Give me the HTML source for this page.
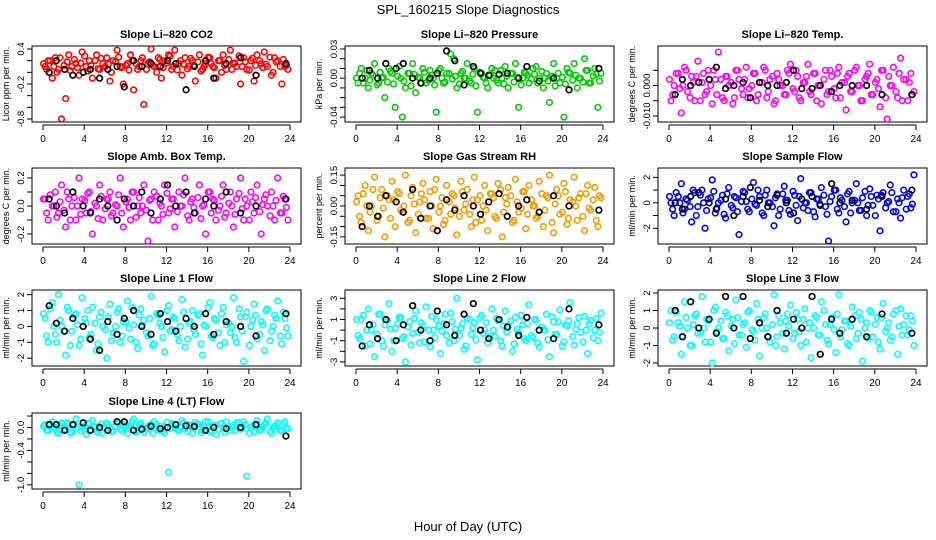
<!DOCTYPE html>
<html><head><meta charset="utf-8"><style>
body{margin:0;background:#fff;}
svg{display:block;font-family:"Liberation Sans",sans-serif;}
</style></head><body>
<svg id="chart" width="936" height="540" viewBox="0 0 936 540">
<text x="468" y="14" text-anchor="middle" font-size="13">SPL_160215  Slope Diagnostics</text>
<text x="468" y="531" text-anchor="middle" font-size="13">Hour of Day (UTC)</text>
</svg>
<script>
const hoursC=[0.2,0.5,0.9,1.2,1.5,1.8,2.2,2.5,2.8,3.2,3.5,3.8,4.2,4.5,4.8,5.2,5.5,5.8,6.2,6.5,6.8,7.2,7.5,7.8,8.2,8.5,8.8,9.2,9.5,9.8,10.2,10.5,10.8,11.2,11.5,11.8,12.2,12.5,12.8,13.2,13.5,13.8,14.2,14.5,14.8,15.2,15.5,15.8,16.2,16.5,16.8,17.2,17.5,17.8,18.2,18.5,18.8,19.2,19.5,19.8,20.2,20.5,20.8,21.2,21.5,21.8,22.2,22.5,22.8,23.2,23.5,23.8];
const hoursD=[0.05,0.35,0.7,1.05,1.35,1.65,2.05,2.35,2.65,3.05,3.35,3.65,4.05,4.35,4.65,5.05,5.35,5.65,6.05,6.35,6.65,7.05,7.35,7.65,8.05,8.35,8.65,9.05,9.35,9.65,10.05,10.35,10.65,11.05,11.35,11.65,12.05,12.35,12.65,13.05,13.35,13.65,14.05,14.35,14.65,15.05,15.35,15.65,16.05,16.35,16.65,17.05,17.35,17.65,18.05,18.35,18.65,19.05,19.35,19.65,20.05,20.35,20.65,21.05,21.35,21.65,22.05,22.35,22.65,23.05,23.35,23.65];
const hoursK=[0.6,1.3,2.1,2.9,3.9,4.6,5.5,6.3,7.2,7.9,8.8,9.6,10.5,11.4,12.1,12.9,13.9,14.7,15.8,16.6,17.8,19.2,20.7,23.6];
const xTicks=[0,4,8,12,16,20,24];
const titles=["Slope Li\u2013820 CO2","Slope Li\u2013820 Pressure","Slope Li\u2013820 Temp.","Slope Amb. Box Temp.","Slope Gas Stream RH","Slope Sample Flow","Slope Line 1 Flow","Slope Line 2 Flow","Slope Line 3 Flow","Slope Line 4 (LT) Flow"];
const yLabels=["Licor ppm per min.","kPa per min.","degrees C per min.","degrees C per min.","percent per min.","ml/min per min.","ml/min per min.","ml/min per min.","ml/min per min.","ml/min per min."];
const colors=["#ff0000","#00cd00","#ff00ff","#ff00ff","#f59a00","#0000ff","#00ffff","#00ffff","#00ffff","#00ffff"];
const domains=[[-0.8,0.4],[-0.042,0.03],[-0.011,0.012],[-0.25,0.25],[-0.17,0.17],[-3,2.5],[-2.3,2.1],[-3.1,3.5],[-2,2],[-1.02,0.2]];
const yTicks=[[0.4,0.2,0,-0.2,-0.4,-0.6,-0.8],[0.03,0.02,0.01,0,-0.01,-0.02,-0.03,-0.04],[0.005,0,-0.005,-0.01],[0.2,0.1,0,-0.1,-0.2],[0.15,0.1,0.05,0,-0.05,-0.1,-0.15],[2,1,0,-1,-2],[2,1,0,-1,-2],[3,2,1,0,-1,-2,-3],[2,1,0,-1,-2],[0.2,0,-0.2,-0.4,-0.6,-0.8,-1.0]];
const yTickLabels=[["0.4","","","-0.2","","","-0.8"],["0.03","","","0.00","","","","-0.04"],["","0.000","","-0.010"],["0.2","","0.0","","-0.2"],["0.15","","","0.00","","","-0.15"],["2","","0","","-2"],["2","1","0","-1","-2"],["3","","1","","-1","","-3"],["2","1","0","-1","-2"],["","0.0","","-0.4","","","-1.0"]];
const valsC0=[0.1,0.2,-0.1,0.25,0.05,-0.8,-0.45,0.3,0.1,0.15,-0.05,0.35,0.1,0.2,-0.1,0.3,0.05,0.15,0.25,-0.15,0.2,0.38,0.1,-0.2,0.15,0.3,-0.3,0.05,0.2,-0.55,0.15,0.4,0.1,0.25,-0.1,0.2,0.3,0.05,0.38,0.15,-0.05,0.25,0.1,0.2,-0.15,0.3,0.05,0.15,0.25,0.1,-0.1,0.2,0.3,0.05,0.38,0.15,0.1,-0.2,0.25,0.05,0.2,-0.15,0.3,0.15,0.35,0.1,-0.05,0.25,0.2,-0.2,0.1,0.05];
const valsD0=[0.15,0.05,0.2,0.1,0.0,0.25,0.12,0.18,0.03,0.22,0.08,0.16,0.28,0.02,0.12,0.2,0.06,0.24,0.1,0.14,0.0,0.18,0.26,0.08,0.12,0.04,0.2,0.15,0.1,0.25,0.05,0.18,0.12,0.0,0.22,0.08,0.16,0.28,0.1,0.04,0.2,0.14,0.06,0.24,0.12,0.18,0.02,0.1,0.26,0.15,0.08,0.2,0.0,0.12,0.22,0.05,0.16,0.28,0.1,0.18,0.04,0.24,0.12,0.2,0.08,0.14,0.26,0.0,0.18,0.1,0.22,0.12];
const valsK0=[0.0,0.2,0.05,-0.05,0.0,0.05,-0.1,0.05,0.1,-0.25,0.2,0.1,0.15,0.1,0.2,0.15,-0.3,0.1,0.2,-0.1,0.15,0.25,-0.05,0.15];
const valsC1=[-0.005,0.01,0.0,-0.01,0.005,0.015,-0.005,0.0,-0.02,0.01,0.005,-0.03,0.012,-0.04,-0.01,0.005,0.015,-0.015,0.0,0.01,-0.005,0.008,0.0,-0.035,0.01,-0.005,0.005,0.025,0.02,-0.01,0.005,0.0,0.015,-0.005,0.01,-0.035,0.005,0.0,-0.01,0.01,0.008,-0.005,0.0,0.012,-0.01,0.005,0.015,-0.03,0.0,0.005,-0.005,0.01,0.012,0.0,-0.01,0.005,-0.025,0.015,0.0,-0.005,-0.04,0.01,0.005,0.015,-0.01,0.0,0.02,0.008,-0.005,0.01,-0.03,0.005];
const valsD1=[0.0,0.005,-0.005,0.008,-0.002,0.003,-0.007,0.006,0.001,-0.004,0.007,-0.006,0.002,0.0,-0.003,0.005,-0.008,0.004,0.001,-0.005,0.006,-0.002,0.003,-0.007,0.008,0.0,-0.004,0.005,-0.001,0.002,-0.006,0.007,0.0,-0.003,0.004,-0.008,0.006,0.001,-0.005,0.003,0.0,-0.002,0.008,-0.006,0.002,0.005,-0.004,0.001,-0.007,0.006,0.003,-0.001,0.004,-0.005,0.007,0.0,-0.003,0.002,-0.008,0.005,0.001,-0.006,0.006,-0.002,0.003,0.0,-0.004,0.008,-0.005,0.002,0.004,-0.003];
const valsK1=[0.0,0.008,0.0,0.015,0.01,0.015,0.0,-0.005,0.0,0.005,0.028,0.018,-0.007,0.012,0.005,0.003,0.004,0.005,0.0,0.012,-0.003,0.0,-0.012,0.01];
const valsC2=[-0.005,0.0,0.004,-0.009,0.006,-0.002,0.003,-0.005,0.008,0.001,-0.003,0.005,-0.006,0.002,0.011,-0.004,0.003,0.0,-0.006,0.005,0.002,-0.003,0.006,-0.001,0.004,-0.005,0.001,0.006,-0.004,0.002,-0.006,0.004,0.0,-0.003,0.005,0.007,-0.002,0.003,-0.005,0.001,0.007,-0.003,0.004,0.0,-0.006,0.005,-0.002,0.003,-0.004,0.006,0.001,-0.008,0.004,-0.002,0.006,0.0,-0.005,0.003,0.007,-0.003,0.002,-0.007,0.005,-0.011,0.0,0.006,-0.004,0.009,0.002,-0.005,0.004,-0.002];
const valsD2=[0.002,-0.003,0.004,-0.001,0.0,0.005,-0.004,0.001,0.003,-0.005,0.004,-0.002,0.0,0.005,-0.003,0.002,-0.005,0.003,0.001,-0.004,0.005,-0.001,0.002,-0.004,0.0,0.004,-0.003,0.001,0.005,-0.002,0.003,-0.005,0.002,0.0,-0.003,0.004,-0.001,0.005,-0.004,0.001,0.003,-0.002,0.004,-0.005,0.0,0.002,-0.003,0.005,-0.001,0.004,-0.004,0.001,0.003,-0.002,0.005,0.0,-0.005,0.002,0.004,-0.003,0.001,-0.001,0.005,-0.004,0.003,0.0,-0.002,0.004,-0.005,0.002,0.001,-0.003];
const valsK2=[-0.003,0.002,0.0,0.001,0.002,0.006,-0.001,0.0,0.001,-0.004,0.001,0.0,0.0,0.001,0.005,-0.001,-0.001,0.0,-0.002,0.0,0.0,0.0,-0.003,-0.003];
const valsC3=[0.05,-0.1,0.0,0.1,-0.05,0.15,-0.15,0.05,0.0,-0.1,0.2,0.05,-0.05,0.1,-0.2,0.0,0.15,-0.1,0.05,0.1,-0.05,0.0,0.2,-0.15,0.05,-0.1,0.1,0.0,-0.05,0.15,-0.25,0.05,0.1,-0.1,0.0,0.15,-0.05,0.05,-0.15,0.1,0.0,0.2,-0.1,0.05,-0.05,0.15,0.0,-0.2,0.1,0.05,-0.1,0.0,0.15,-0.05,0.1,-0.15,0.05,0.2,-0.1,0.0,0.1,-0.05,0.15,-0.2,0.05,0.0,0.1,-0.1,0.2,-0.05,0.05,-0.1];
const valsD3=[0.05,-0.05,0.08,0.0,-0.08,0.03,-0.03,0.1,-0.1,0.06,0.0,-0.06,0.04,0.09,-0.04,0.02,-0.09,0.07,-0.02,0.05,-0.07,0.01,0.08,-0.05,0.03,-0.01,0.1,-0.08,0.06,0.0,-0.03,0.04,-0.1,0.07,0.02,-0.06,0.09,-0.02,0.05,-0.04,0.0,0.08,-0.07,0.03,-0.01,0.06,-0.09,0.01,0.1,-0.05,0.04,-0.03,0.07,-0.08,0.02,0.0,-0.06,0.09,-0.02,0.05,-0.1,0.03,0.06,-0.04,0.01,0.08,-0.07,0.0,0.04,-0.05,0.07,-0.01];
const valsK3=[0.05,0.0,-0.05,0.1,0.0,-0.05,0.05,0.0,-0.1,0.05,0.0,0.1,-0.05,0.05,0.15,0.0,0.1,-0.05,0.05,0.0,0.1,-0.05,0.0,0.05];
const valsC4=[0.05,-0.08,0.1,-0.12,0.0,0.14,-0.05,0.08,-0.15,0.03,0.12,-0.1,0.06,-0.03,0.15,-0.07,0.09,-0.13,0.02,0.11,-0.06,0.07,-0.11,0.13,0.0,-0.09,0.1,-0.04,0.05,-0.14,0.12,-0.02,0.08,-0.1,0.14,0.03,-0.07,0.1,-0.12,0.06,-0.05,0.11,-0.15,0.04,0.09,-0.08,0.13,-0.03,0.07,-0.11,0.1,0.0,-0.06,0.12,-0.1,0.05,0.15,-0.13,0.08,-0.04,0.11,-0.09,0.03,0.14,-0.07,0.06,-0.12,0.1,-0.02,0.09,-0.1,0.04];
const valsD4=[0.02,-0.05,0.06,0.0,-0.03,0.08,-0.07,0.04,-0.01,0.05,-0.06,0.03,0.07,-0.02,0.0,-0.08,0.05,0.01,-0.04,0.06,0.03,-0.06,0.0,0.08,-0.03,0.04,-0.07,0.02,0.06,-0.01,-0.05,0.07,0.01,-0.04,0.03,-0.08,0.05,0.0,-0.02,0.06,0.04,-0.06,0.08,-0.03,0.01,0.05,-0.07,0.02,-0.01,0.07,-0.04,0.03,0.0,-0.05,0.06,-0.02,0.04,-0.08,0.01,0.05,-0.03,0.07,-0.06,0.02,0.0,0.04,-0.05,0.06,-0.01,0.03,-0.07,0.05];
const valsK4=[-0.1,0.0,-0.05,0.05,0.02,-0.03,0.08,-0.06,0.0,-0.12,0.03,-0.02,0.05,0.0,-0.04,0.02,0.06,-0.05,0.0,0.03,-0.03,0.05,0.0,-0.02];
const valsC5=[0.0,-1.0,0.5,1.5,-0.5,0.2,-1.5,0.8,-0.3,1.0,-2.0,0.3,1.8,-0.8,0.0,0.6,-1.2,1.2,-0.4,0.4,-2.5,0.9,0.1,-0.7,1.6,-0.2,0.5,-1.0,1.0,0.0,-1.8,0.7,-0.5,1.3,0.2,-0.9,0.6,-1.4,1.9,0.0,-0.6,0.8,-1.1,0.3,1.2,-0.3,-3.0,0.5,1.0,-0.8,0.2,-1.5,0.9,0.0,1.5,-0.6,0.4,-1.0,1.1,-0.2,0.6,-2.2,0.8,0.0,1.4,-0.7,0.3,-1.2,1.0,0.5,-0.4,2.2];
const valsD5=[0.5,-0.5,0.8,0.0,-0.8,0.3,-0.3,1.0,-1.0,0.6,0.0,-0.6,0.4,0.9,-0.4,0.2,-0.9,0.7,-0.2,0.5,-0.7,0.1,0.8,-0.5,0.3,-0.1,1.0,-0.8,0.6,0.0,-0.3,0.4,-1.0,0.7,0.2,-0.6,0.9,-0.2,0.5,-0.4,0.0,0.8,-0.7,0.3,-0.1,0.6,-0.9,0.1,1.0,-0.5,0.4,-0.3,0.7,-0.8,0.2,0.0,-0.6,0.9,-0.2,0.5,-1.0,0.3,0.6,-0.4,0.1,0.8,-0.7,0.0,0.4,-0.5,0.7,-0.1];
const valsK5=[0.0,-0.5,0.5,0.8,0.0,-0.5,0.3,-1.0,0.5,1.2,0.2,-0.3,0.6,0.0,-0.8,0.3,0.5,-0.2,1.5,0.0,0.2,-0.5,0.5,1.0];
const valsC6=[0.5,-1.0,1.5,-0.5,2.0,0.0,-1.8,1.0,-0.3,0.8,-1.2,1.8,0.2,-0.7,1.2,-1.5,0.6,0.0,-2.0,1.4,-0.4,0.9,-1.0,0.3,1.6,-0.8,0.1,-1.4,1.1,0.4,-0.6,1.9,-1.1,0.7,0.0,-1.6,1.3,-0.2,0.5,-0.9,1.7,-1.3,0.2,1.0,-0.5,0.8,-1.8,0.0,1.5,-0.7,0.4,-1.2,1.2,0.1,-0.4,1.8,-1.0,0.6,-2.2,0.9,0.0,1.4,-0.8,0.3,-1.5,1.1,-0.3,0.7,1.6,-1.1,0.5,-0.6];
const valsD6=[0.8,-0.6,1.1,0.0,-1.0,0.4,-0.3,1.2,-1.2,0.7,0.1,-0.8,0.5,1.0,-0.5,0.2,-1.1,0.9,-0.2,0.6,-0.9,0.0,1.1,-0.6,0.3,-0.1,1.2,-1.0,0.7,0.1,-0.4,0.5,-1.2,0.8,0.2,-0.7,1.0,-0.3,0.6,-0.5,0.0,0.9,-0.8,0.3,-0.2,0.7,-1.1,0.1,1.2,-0.6,0.5,-0.4,0.8,-1.0,0.2,0.0,-0.7,1.1,-0.3,0.6,-1.2,0.4,0.7,-0.5,0.1,1.0,-0.9,0.0,0.5,-0.6,0.9,-0.1];
const valsK6=[1.3,0.2,-0.3,0.5,0.0,-0.8,-1.5,0.3,-0.5,0.5,1.0,0.0,-0.5,0.8,0.3,-0.3,0.5,0.0,0.8,-0.5,0.3,0.0,-0.6,0.8];
const valsC7=[-0.5,1.0,-1.5,2.0,0.0,-2.5,1.5,-1.0,0.5,2.5,-2.0,0.2,1.2,-0.8,-3.0,0.8,-0.3,1.8,-1.2,0.4,2.2,-1.6,0.0,1.0,-2.2,0.6,-0.5,1.6,-1.0,3.0,0.2,-1.8,1.1,-0.4,0.7,-2.8,1.4,0.0,-1.2,2.0,-0.6,0.9,-1.5,1.8,0.3,-2.0,1.2,-0.2,0.5,-1.0,2.4,-0.7,1.0,-1.6,0.0,1.5,-2.5,0.8,-0.4,1.9,-1.1,0.4,2.6,-1.4,0.6,-0.2,1.3,-2.2,0.9,0.0,-1.0,1.6];
const valsD7=[1.0,-0.8,1.4,0.0,-1.3,0.5,-0.4,1.5,-1.5,0.9,0.1,-1.0,0.6,1.2,-0.6,0.3,-1.4,1.1,-0.2,0.7,-1.1,0.0,1.3,-0.7,0.4,-0.1,1.5,-1.2,0.8,0.1,-0.5,0.6,-1.5,1.0,0.2,-0.9,1.2,-0.3,0.7,-0.6,0.0,1.1,-1.0,0.4,-0.2,0.9,-1.3,0.1,1.4,-0.8,0.6,-0.5,1.0,-1.2,0.3,0.0,-0.9,1.3,-0.4,0.8,-1.5,0.5,0.9,-0.6,0.1,1.2,-1.1,0.0,0.6,-0.7,1.1,-0.2];
const valsK7=[-1.5,0.5,-0.8,1.0,-1.0,0.5,2.3,0.0,-1.0,1.8,0.5,-0.5,1.5,2.5,0.0,-0.8,1.0,0.3,-0.5,1.2,0.0,-0.8,2.0,0.5];
const valsC8=[1.0,-0.5,0.3,-1.5,1.5,0.0,-1.0,0.7,-0.3,1.8,-0.8,0.4,-2.0,1.2,0.0,-0.6,0.9,-1.3,0.5,1.6,-0.4,0.2,-1.1,1.0,-0.2,1.4,-1.6,0.6,0.0,-0.8,1.9,-0.5,0.3,-1.2,0.8,1.3,-0.3,0.5,-1.0,1.1,0.0,-1.7,0.7,-0.4,1.5,0.2,-0.9,0.6,-1.4,1.9,-0.1,0.4,-1.0,1.2,-0.6,0.9,-1.9,0.3,1.0,-0.5,0.6,-1.2,1.4,0.0,-0.7,0.8,-1.5,1.1,0.2,-0.4,0.7,-1.0];
const valsD8=[0.3,-0.7,0.9,0.1,-0.5,0.6,-1.0,0.2,0.8,-0.3,0.0,0.5,-0.8,1.0,-0.2,0.4,-0.6,0.7,0.1,-0.9,0.6,-0.4,0.3,0.9,-0.1,-0.7,0.5,0.0,0.8,-0.5,0.2,-1.0,0.7,-0.3,0.4,0.1,-0.6,0.9,-0.2,0.5,-0.8,0.3,0.0,0.6,-0.4,1.0,-0.7,0.2,-0.1,0.8,-0.5,0.4,-0.9,0.1,0.7,-0.3,0.5,0.0,-0.6,0.9,0.2,-0.8,0.6,-0.2,0.3,-0.5,1.0,0.1,-0.4,0.7,-0.1,0.4];
const valsK8=[1.0,-0.5,1.5,0.0,0.5,-0.3,1.8,0.0,1.8,-0.6,0.3,-0.5,1.0,-0.3,0.5,0.0,1.8,-1.5,0.5,-0.3,0.5,-0.5,0.8,-0.3];
const valsC9=[0.05,-0.05,0.1,0.0,-0.1,0.08,-0.03,0.05,-0.08,0.15,-1.0,0.0,-0.12,0.06,0.12,-0.05,0.02,-0.1,0.08,0.0,-0.06,0.1,-0.02,0.05,-0.1,0.03,0.15,-0.05,0.08,-0.08,0.0,0.06,0.1,-0.04,0.02,-0.1,-0.78,0.07,0.0,-0.06,0.12,-0.02,0.05,-0.1,0.09,0.0,-0.05,0.1,-0.08,0.03,-0.12,0.06,0.0,0.1,-0.05,0.04,0.08,-0.03,0.1,-0.85,0.0,-0.08,0.12,-0.04,0.05,0.15,-0.1,0.02,0.08,-0.06,0.1,-0.02];
const valsD9=[0.02,-0.05,0.06,0.0,-0.08,0.04,-0.03,0.08,-0.1,0.05,0.0,-0.06,0.03,0.07,-0.04,0.01,-0.09,0.06,-0.02,0.04,-0.07,0.02,0.08,-0.05,0.03,-0.01,0.1,-0.08,0.05,0.0,-0.03,0.04,-0.1,0.06,0.02,-0.06,0.09,-0.02,0.05,-0.04,0.0,0.08,-0.07,0.03,-0.01,0.06,-0.09,0.01,0.1,-0.05,0.04,-0.03,0.07,-0.08,0.02,0.0,-0.06,0.09,-0.02,0.05,-0.1,0.03,0.06,-0.04,0.01,0.08,-0.07,0.0,0.04,-0.05,0.07,-0.01];
const valsK9=[0.05,0.05,-0.05,0.05,0.08,-0.05,0.0,-0.05,0.1,0.1,-0.05,-0.03,0.02,-0.02,0.0,0.05,0.03,0.02,-0.05,0.0,-0.02,0.0,0.05,-0.15];
const colorVals=[valsC0,valsC1,valsC2,valsC3,valsC4,valsC5,valsC6,valsC7,valsC8,valsC9];
const colorVals2=[valsD0,valsD1,valsD2,valsD3,valsD4,valsD5,valsD6,valsD7,valsD8,valsD9];
const blackVals=[valsK0,valsK1,valsK2,valsK3,valsK4,valsK5,valsK6,valsK7,valsK8,valsK9];

const NS="http://www.w3.org/2000/svg";
const svg=document.getElementById('chart');
function mk(tag,attrs,parent){const e=document.createElementNS(NS,tag);for(const k in attrs)e.setAttribute(k,attrs[k]);parent.appendChild(e);return e;}
const colX0=[43,356,669], rowTop=[46,168,290,413], BOXH=76, XW=247;
for(let p=0;p<10;p++){
  const col=p%3,row=Math.floor(p/3);
  const x0=colX0[col],top=rowTop[row],bot=top+BOXH;
  const left=x0-11,right=x0+258;
  const [lo,hi]=domains[p];
  const xs=h=>x0+h/24*XW;
  const ys=v=>(bot-3)-(v-lo)/(hi-lo)*(BOXH-6);
  const g=mk('g',{},svg);
  
  
  const t=mk('text',{x:(left+right)/2,y:top-8,'text-anchor':'middle','font-size':11,'font-weight':'bold'},g);
  t.textContent=titles[p];
  
  
  const box=mk('rect',{x:left,y:top,width:right-left,height:BOXH,fill:'none',stroke:'#000','stroke-width':1},g);
  
  
  const xa=mk('g',{},g);
  
  
  mk('line',{x1:xs(0),x2:xs(24),y1:bot+3,y2:bot+3,stroke:'#000'},xa);
  xTicks.forEach(v=>{
    mk('line',{x1:xs(v),x2:xs(v),y1:bot+3,y2:bot+8,stroke:'#000'},xa);
    const tl=mk('text',{x:xs(v),y:bot+20,'text-anchor':'middle','font-size':10},xa);
    tl.textContent=v;
    
    
  });
  const ya=mk('g',{},g);
  
  
  const tk=yTicks[p];
  mk('line',{x1:left,x2:left,y1:ys(Math.max(...tk)),y2:ys(Math.min(...tk)),stroke:'#000'},ya);
  tk.forEach((v,i)=>{
    const yy=ys(v);
    mk('line',{x1:left-5,x2:left,y1:yy,y2:yy,stroke:'#000'},ya);
    const s=yTickLabels[p][i];
    if(s){
      const tl=mk('text',{x:left-8,y:yy,'text-anchor':'middle','font-size':9.5,transform:`rotate(-90 ${left-8} ${yy})`},ya);
      tl.textContent=s;
      
      
    }
  });
  const yl=mk('text',{x:left-23,y:top+BOXH/2,'text-anchor':'middle','font-size':9,transform:`rotate(-90 ${left-23} ${top+BOXH/2})`},g);
  yl.textContent=yLabels[p];
  
  
  const cg=mk('g',{fill:'none',stroke:colors[p],'stroke-width':1.6},g);
  
  
  const dv=colorVals2[p];
  for(let i=0;i<Math.min(dv.length,hoursD.length);i++){
    const c=mk('circle',{cx:xs(hoursD[i]),cy:ys(dv[i]),r:2.8},cg);
    
    
  }
  const cv=colorVals[p];
  for(let i=0;i<Math.min(cv.length,hoursC.length);i++){
    const c=mk('circle',{cx:xs(hoursC[i]),cy:ys(cv[i]),r:2.8},cg);
    
    
  }
  const kg=mk('g',{fill:'none',stroke:'#000','stroke-width':1.7},g);
  
  
  const kv=blackVals[p];
  for(let i=0;i<Math.min(kv.length,hoursK.length);i++){
    const c=mk('circle',{cx:xs(hoursK[i]),cy:ys(kv[i]),r:2.8},kg);
    
    
  }
}
</script>
</body></html>
